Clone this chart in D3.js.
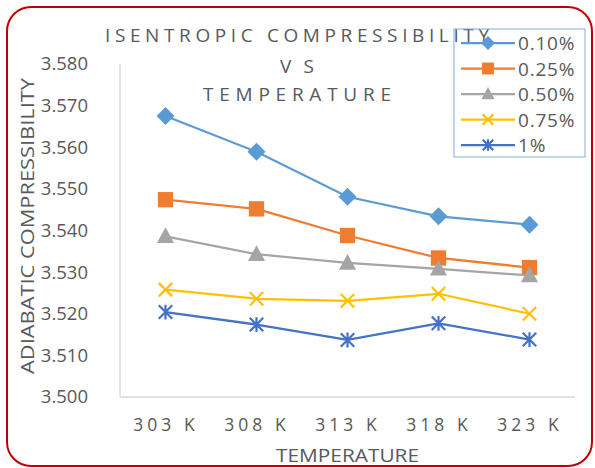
<!DOCTYPE html>
<html>
<head>
<meta charset="utf-8">
<script src="https://cdn.jsdelivr.net/npm/d3@7"></script>
<style>
  html, body { margin: 0; padding: 0; background: #fff; }
  svg { display: block; }
  text { font-family: "Open Sans", "Liberation Sans", sans-serif; fill: #595959; }
</style>
</head>
<body>
<svg id="chart" width="595" height="468"></svg>
<script>
// Temperatures (x categories)
const temperatures = ["303 K", "308 K", "313 K", "318 K", "323 K"];

// Adiabatic compressibility for each concentration
const seriesNames = ["0.10%", "0.25%", "0.50%", "0.75%", "1%"];
const conc010 = [3.5675, 3.5589, 3.5481, 3.5434, 3.5414];
const conc025 = [3.5474, 3.5452, 3.5388, 3.5334, 3.5311];
const conc050 = [3.5386, 3.5343, 3.5322, 3.5308, 3.5292];
const conc075 = [3.5258, 3.5236, 3.5231, 3.5248, 3.5200];
const conc100 = [3.5204, 3.5174, 3.5137, 3.5177, 3.5138];

const yTicks = [3.500, 3.510, 3.520, 3.530, 3.540, 3.550, 3.560, 3.570, 3.580];

const seriesValues = [conc010, conc025, conc050, conc075, conc100];
const colors = ["#5B9BD5", "#ED7D31", "#A5A5A5", "#FFC000", "#4472C4"];
const markerTypes = ["diamond", "square", "triangle", "x", "star"];

const svg = d3.select("#chart");

// Outer chart frame
svg.append("rect")
  .attr("x", 7).attr("y", 7).attr("width", 585).attr("height", 459)
  .attr("rx", 24).attr("ry", 24)
  .attr("fill", "#fff").attr("stroke", "#C00000").attr("stroke-width", 2);

const plot = { left: 120, right: 575, top: 64, bottom: 397 };

const x = d3.scalePoint().domain(temperatures).range([plot.left, plot.right]).padding(0.5);
const y = d3.scaleLinear().domain([3.5, 3.58]).range([plot.bottom, plot.top]);

// Axis lines
svg.append("line")
  .attr("x1", plot.left).attr("x2", plot.left).attr("y1", plot.top).attr("y2", plot.bottom)
  .attr("stroke", "#D9D9D9").attr("stroke-width", 1.3);
svg.append("line")
  .attr("x1", plot.left).attr("x2", plot.right).attr("y1", plot.bottom).attr("y2", plot.bottom)
  .attr("stroke", "#D9D9D9").attr("stroke-width", 1.3);

// Y axis labels
const yAxis = d3.axisLeft(y).tickValues(yTicks).tickFormat(d3.format(".3f")).tickSize(0).tickPadding(32);
const gy = svg.append("g").attr("transform", `translate(${plot.left},0)`).call(yAxis);
gy.select(".domain").remove();
gy.selectAll("text").style("font-size", "18.5px").attr("fill", "#595959")
  .style("font-family", '"Open Sans", "Liberation Sans", sans-serif');

// X axis labels
const xAxis = d3.axisBottom(x).tickSize(0).tickPadding(22);
const gx = svg.append("g").attr("transform", `translate(0,${plot.bottom})`).call(xAxis);
gx.select(".domain").remove();
gx.selectAll("text").style("font-size", "17.5px").attr("fill", "#595959")
  .style("font-family", '"Open Sans", "Liberation Sans", sans-serif')
  .style("letter-spacing", "4px");

// Axis titles
svg.append("text")
  .attr("x", (plot.left + plot.right) / 2).attr("y", 462)
  .attr("text-anchor", "middle").style("font-size", "18px")
  .attr("textLength", 143).attr("lengthAdjust", "spacingAndGlyphs")
  .text("TEMPERATURE");
svg.append("text")
  .attr("transform", "translate(34,226) rotate(-90)")
  .attr("text-anchor", "middle").style("font-size", "18px")
  .attr("textLength", 296).attr("lengthAdjust", "spacingAndGlyphs")
  .text("ADIABATIC COMPRESSIBILITY");

// Chart title (three lines, letter-spaced)
const titleLines = [
  { text: "ISENTROPIC COMPRESSIBILITY", y: 42, len: 384 },
  { text: "VS", y: 73, len: 34 },
  { text: "TEMPERATURE", y: 101, len: 188 }
];
titleLines.forEach(t => {
  svg.append("text")
    .attr("x", 297 - t.len / 2).attr("y", t.y)
    .attr("textLength", t.len).attr("lengthAdjust", "spacing")
    .style("font-size", "19px")
    .text(t.text);
});

// Marker drawing
function drawMarker(g, type, color, s) {
  if (type === "diamond") {
    g.append("path").attr("d", `M0,${-s}L${s},0L0,${s}L${-s},0Z`).attr("fill", color);
  } else if (type === "square") {
    g.append("rect").attr("x", -s * 0.85).attr("y", -s * 0.85)
      .attr("width", s * 1.7).attr("height", s * 1.7).attr("fill", color);
  } else if (type === "triangle") {
    g.append("path").attr("d", `M0,${-s}L${s * 0.95},${s * 0.75}L${-s * 0.95},${s * 0.75}Z`).attr("fill", color);
  } else if (type === "x") {
    const r = s * 0.75;
    g.append("path").attr("d", `M${-r},${-r}L${r},${r}M${-r},${r}L${r},${-r}`)
      .attr("stroke", color).attr("stroke-width", 2.2).attr("fill", "none");
  } else if (type === "star") {
    const r = s * 0.75;
    g.append("path").attr("d", `M${-r},${-r}L${r},${r}M${-r},${r}L${r},${-r}M0,${-r * 1.1}L0,${r * 1.1}`)
      .attr("stroke", color).attr("stroke-width", 2.2).attr("fill", "none");
  }
}

// Series lines and markers
const line = d3.line().x((d, i) => x(temperatures[i])).y(d => y(d));
seriesValues.forEach((vals, si) => {
  svg.append("path").datum(vals)
    .attr("d", line).attr("fill", "none")
    .attr("stroke", colors[si]).attr("stroke-width", 2.25);
  vals.forEach((v, i) => {
    const g = svg.append("g").attr("transform", `translate(${x(temperatures[i])},${y(v)})`);
    drawMarker(g, markerTypes[si], colors[si], 9);
  });
});

// Legend
const legend = svg.append("g");
legend.append("rect")
  .attr("x", 454).attr("y", 29).attr("width", 131).attr("height", 128)
  .attr("fill", "none").attr("stroke", "#7FADDB").attr("stroke-width", 1);
seriesNames.forEach((name, i) => {
  const ly = 43 + i * 25.5;
  legend.append("line").attr("x1", 461).attr("x2", 515).attr("y1", ly).attr("y2", ly)
    .attr("stroke", colors[i]).attr("stroke-width", 2.25);
  const g = legend.append("g").attr("transform", `translate(488,${ly})`);
  drawMarker(g, markerTypes[i], colors[i], 7);
  legend.append("text").attr("x", 518).attr("y", ly + 7)
    .style("font-size", "19px").style("letter-spacing", "0.8px")
    .text(name);
});
</script>
</body>
</html>
